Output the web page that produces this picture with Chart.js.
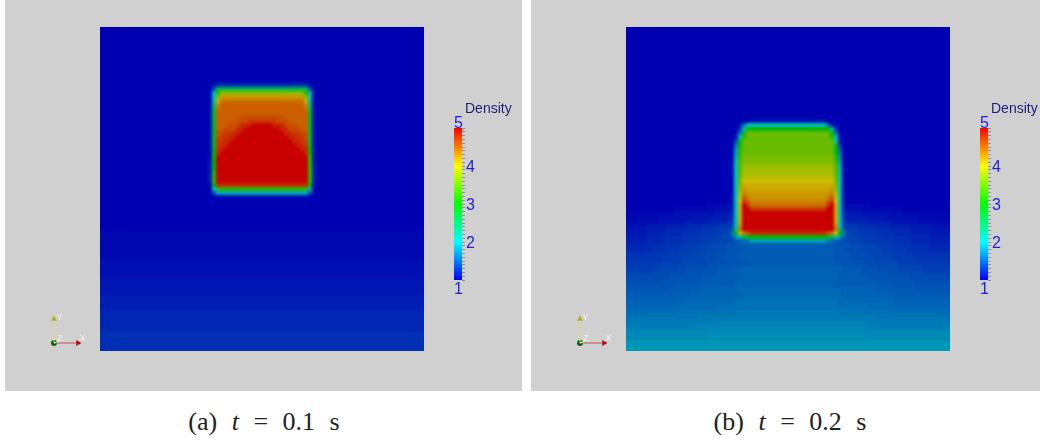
<!DOCTYPE html>
<html>
<head>
<meta charset="utf-8">
<style>
  html, body { margin: 0; padding: 0; background: #fff; }
  body { position: relative; width: 1040px; height: 441px; overflow: hidden; }
  .panel { position: absolute; top: 0; height: 391px; background: #d0d0d0; }
  canvas { position: absolute; display: block; }
  .caption { position: absolute; top: 407px; width: 518px; text-align: center;
    font: 26px "Liberation Serif", serif; color: #222; word-spacing: 8px; white-space: nowrap; }
</style>
</head>
<body>
<div class="panel" style="left:5px;width:517px"></div>
<div class="panel" style="left:531px;width:509px"></div>
<canvas id="heatA" style="left:100px;top:27px"></canvas>
<canvas id="heatB" style="left:626px;top:27px"></canvas>
<canvas id="barA" style="left:440px;top:95px"></canvas>
<canvas id="barB" style="left:966px;top:95px"></canvas>
<canvas id="axesA" style="left:40px;top:310px"></canvas>
<canvas id="axesB" style="left:566px;top:310px"></canvas>
<div class="caption" style="left:5px">(a) <i>t</i> = 0.1 s</div>
<div class="caption" style="left:531px">(b) <i>t</i> = 0.2 s</div>
<script src="https://cdn.jsdelivr.net/npm/chart.js@4/dist/chart.umd.js"></script>
<script>
// density: a letter is one entry of levelNames, "27a" means 27 cells of it
const levelNames = 'abcdefghijklmnopqrstuvwxyzABCDEFGHIJKLMNOPQRSTUV';
const levelValues = [1.00,1.04,1.08,1.12,1.16,1.20,1.24,1.28,1.32,1.36,1.40,1.44,1.48,1.52,1.56,1.60,1.64,1.68,1.72,1.76,1.80,1.84,1.88,1.92,1.96,2.00,
  2.2,2.4,2.6,2.8,3.0,3.2,3.4,3.5,3.6,3.7,3.8,3.9,4.0,4.1,4.2,4.3,4.4,4.5,4.6,4.7,4.8,5.0];

const densityA = [
  '81a','81a','81a','81a','81a','81a','81a','81a','81a','81a','81a','81a','81a','81a',
  '28a c 23g c 28a',
  '27a b k 23C k b 27a',
  '27a b z F 21J F z b 27a',
  '27a b z I 21O I z b 27a',
  '27a b A N 21Q N A b 27a',
  '27a b B P 21R P B b 27a',
  '27a c C Q 21R Q C c 27a',
  '27a c D R 21R R D c 27a',
  '27a c D 6R 11S 6R D c 27a',
  '27a c D 5R 3S 7T 3S 5R D c 27a',
  '27a c D 3R 3S 3U 5V 3U 3S 3R D c 27a',
  '27a c D 2R 3S 2U 9V 2U 3S 2R D c 27a',
  '27a c D 2S 2T 2U 11V 2U 2T 2S D c 27a',
  '27a c D S 2T 2U 13V 2U 2T S D c 27a',
  '27a c D 2T 2U 15V 2U 2T D c 27a',
  '27a c D T 2U 17V 2U T D c 27a',
  '27a c D 2U 19V 2U E d 27a',
  '27a c E U 21V U E d 27a',
  '27a c E 23V F d 27a',
  '27a d E 23V F e 27a',
  '27a d E 23V F e 27a',
  '27a e E 23V F f 27a',
  '27a e F 23V F f 27a',
  '27a e F 23V F f 27a',
  '27a e F 23V F f 27a',
  '27a c E 23U E c 27a',
  '27a b y 23F y b 27a',
  '27a b k 23w k b 27a',
  '29a 23c 29a',
  '81a','81a','81a','81a','81a','81a','81a','81a',
  '81b','81b','81b','81b','81b','81b','81b',
  '81c','81c','81c','81c','81c',
  '81d','81d','81d','81d',
  '81e','81e','81e','81e',
  '81f','81f','81f','81f','81f',
  '81g','81g','81g','81g','81g'
];

const densityB = [
  '81a','81a','81a','81a','81a','81a','81a','81a','81a','81a','81a','81a',
  '81a','81a','81a','81a','81a','81a','81a','81a','81a','81a','81a',
  '31a 19d 31a',
  '28a d p 20z p d 29a',
  '28a h z 21E z h 28a',
  '27a b p D 21H D p b 27a',
  '27a d z F 21H F z d 27a',
  '27a j D 23H z e 27a',
  '27a p E 23H C g 27a',
  '27a t F 23H E m 27a',
  '26a b u F 23H E p 27a',
  '26a b w F 23I F s 27a',
  '26a c y G 23I F u 27a',
  '26a c z G 23J G w 27a',
  '26a c z G 23K G y b 26a',
  '26a c z G 23K G y b 26a',
  '26a c z H 23L H z b 26a',
  '26a c z I 23M I z b 26a',
  '26a c z I 23N I z b 26a',
  '26a c z J O 21N O J z b 26a',
  '26a c z K P 21O P K z b 26a',
  '26a d z L R P 19O P R L z c 26a',
  '26a d z M T R 19P R T M z c 26a',
  '20a 6b d z N V T 19Q T V N z d 6b 20a',
  '12a 10b 4c e z N 2V 19T 2V N z e 4c 10b 12a',
  '12b 10c 4d f z N 23V N z f 4d 10c 12b',
  '8b 8c 6d 4e g z N 23V N z g 4e 6d 8c 8b',
  '8b 6c 6d 6e h z N 23V N z h 6e 6d 6c 8b',
  '5c 5d 5e 4f 4g 3h j z O 23V O z j 3h 4g 4f 5e 5d 5c',
  '5d 5e 5f 4g 4h 3i k A Q 23V Q A k 3i 4h 4g 5f 5e 5d',
  '5d 5e 4f 4g 4h 2i 2j q E M Q S 19U S Q M E q 2j 2i 4h 4g 4f 5e 5d',
  '5e 5f 5g 4h 4i 3j l u A C D 19E D C A u l 3j 4i 4h 5g 5f 5e',
  '5e 5f 5g 4h 4i 3j k l m o q 19v q o m l k 3j 4i 4h 5g 5f 5e',
  '5f 4g 5h 4i 3j 4k 3l 24m 4l 3k 4j 4i 5h 4g 5f',
  '6f 4g 3h 5i 4j 3k 4l 23m 3l 4k 5j 3i 4h 5g 5f',
  '5g 6h 5i 4j 5k 3l 24m 4l 4k 4j 5i 5h 5g',
  '7h 7i 5j 4k 5l 24m 4l 6k 4j 6i 9h',
  '9h 5i 6j 5k 5l 22m 5l 5k 6j 5i 8h',
  '7i 8j 6k 7l 26m 6l 8k 6j 7i',
  '8i 5j 6k 4l 4m 27n 5m 4l 5k 6j 7i',
  '7j 8k 8l 5m 25n 6m 7l 8k 7j',
  '11k 8l 10m 24n 8m 10l 10k',
  '9k 10l 8m 26n 10m 9l 9k',
  '13l 15m 24n 15m 14l',
  '11l 8m 8n 27o 8n 10m 9l',
  '16m 13n 23o 14n 15m',
  '13m 14n 27o 13n 14m',
  '15n 13o 25p 14o 14n',
  '12n 15o 26p 13o 15n',
  '22o 38p 21o',
  '12o 15p 27q 13p 14o',
  '18p 44q 19p',
  '22q 38r 21q',
  '17q 46r 18q',
  '21r 39s 21r',
  '81s',
  '20s 41t 20s',
  '81t',
  '81u',
  '81u'
];

const colorValues = [1, 2, 3, 4, 5];
const barColors = [[0,0,255],[0,255,255],[0,255,0],[255,255,0],[255,0,0]];   // legend
const heatColors = [[0,0,178],[0,190,185],[0,185,0],[205,190,0],[200,0,0]];  // same map, shaded in the plot
const barLabels = [2, 3, 4];
const endLabels = [5, 1];
const barTitle = 'Density';
const axisX = [{x:0,y:0},{x:1,y:0}];
const axisY = [{x:0,y:0},{x:0,y:1}];
const axisZ = [{x:0,y:0},{x:0.18,y:0.06}];
const axisNames = [{t:'X',x:1.06,y:0.1},{t:'Y',x:0.1,y:0.95},{t:'Z',x:0.14,y:0.1}];

const gridSize = 81;
const heatPx = 324;

function colorOf(v, stops) {
  let i = 0;
  while (i < colorValues.length - 2 && v > colorValues[i + 1]) i++;
  const f = (v - colorValues[i]) / (colorValues[i + 1] - colorValues[i]);
  const c = stops[i].map((a, k) => Math.round(a + (stops[i + 1][k] - a) * f));
  return `rgb(${c[0]},${c[1]},${c[2]})`;
}

function expandRow(row) {
  const s = row.replace(/\s/g, '').replace(/(\d+)([a-zA-Z])/g, (m, n, c) => c.repeat(+n));
  return s.padEnd(gridSize, s[s.length - 1]).slice(0, gridSize);
}

function drawHeat(id, rows) {
  const cells = [];
  const colors = [];
  rows.forEach((row, r) => {
    const s = expandRow(row);
    for (let c = 0; c < gridSize; c++) {
      const v = levelValues[levelNames.indexOf(s[c])];
      cells.push({ x: c + 0.5, y: r + 0.5 });
      colors.push(colorOf(v, heatColors));
    }
  });
  const canvas = document.getElementById(id);
  canvas.width = heatPx;
  canvas.height = heatPx;
  new Chart(canvas, {
    type: 'scatter',
    data: { datasets: [{ data: cells, pointStyle: 'rect', pointRadius: 4 / Math.SQRT2,
      pointBorderWidth: 0, pointBackgroundColor: colors, clip: false }] },
    options: {
      // one canvas pixel per cell, the browser smooths it when it is scaled up
      devicePixelRatio: gridSize / heatPx,
      responsive: false, animation: false, events: [],
      layout: { autoPadding: false, padding: 0 },
      plugins: { legend: { display: false }, tooltip: { enabled: false } },
      scales: {
        x: { type: 'linear', display: false, min: 0, max: gridSize },
        y: { type: 'linear', display: false, min: 0, max: gridSize, reverse: true }
      }
    }
  });
}

const barText = {
  id: 'barText',
  afterDraw(chart) {
    const ctx = chart.ctx;
    ctx.save();
    ctx.textBaseline = 'alphabetic';
    ctx.textAlign = 'left';
    ctx.font = '14px "Liberation Sans"';
    ctx.fillStyle = '#1c1c78';
    ctx.fillText(barTitle, 25, 18);
    ctx.font = '16px "Liberation Sans"';
    ctx.fillStyle = '#2222d8';
    ctx.fillText(String(endLabels[0]), 14, chart.scales.y.getPixelForValue(endLabels[0]));
    ctx.fillText(String(endLabels[1]), 14, chart.scales.y.getPixelForValue(endLabels[1]) + 14);
    ctx.restore();
  }
};

function drawBar(id, width) {
  const canvas = document.getElementById(id);
  canvas.width = width;
  canvas.height = 205;
  new Chart(canvas, {
    type: 'bar',
    data: {
      labels: [barTitle],
      datasets: [{
        data: [[colorValues[0], colorValues[colorValues.length - 1]]],
        categoryPercentage: 1, barPercentage: 1, borderWidth: 0,
        backgroundColor(c) {
          const area = c.chart.chartArea;
          if (!area) return '#00f';
          const g = c.chart.ctx.createLinearGradient(0, area.bottom, 0, area.top);
          colorValues.forEach((v, i) => g.addColorStop(i / (colorValues.length - 1), colorOf(v, barColors)));
          return g;
        }
      }]
    },
    options: {
      responsive: false, animation: false, events: [],
      layout: { padding: { left: 14, top: 33, bottom: 20, right: 0 } },
      plugins: { legend: { display: false }, tooltip: { enabled: false } },
      scales: {
        x: { display: false },
        y: {
          position: 'right', min: 1, max: 5,
          border: { display: false },
          grid: { drawOnChartArea: false, tickLength: 3, color: '#8c8ca4', lineWidth: 1 },
          afterFit(scale) { scale.width = width - 22; },
          ticks: {
            stepSize: 0.1, autoSkip: false, padding: 1, labelOffset: 2, maxRotation: 0,
            color: '#2222d8', font: { family: 'Liberation Sans', size: 16 },
            callback(v) {
              const n = Math.round(v * 10) / 10;
              return barLabels.includes(n) ? String(n) : '';
            }
          }
        }
      }
    },
    plugins: [barText]
  });
}

const axisText = {
  id: 'axisText',
  afterDraw(chart) {
    const ctx = chart.ctx;
    ctx.save();
    ctx.font = '9px "Liberation Sans"';
    ctx.fillStyle = '#f4f4f4';
    axisNames.forEach(n => {
      ctx.fillText(n.t, chart.scales.x.getPixelForValue(n.x), chart.scales.y.getPixelForValue(n.y));
    });
    ctx.restore();
  }
};

function drawAxes(id) {
  const canvas = document.getElementById(id);
  canvas.width = 50;
  canvas.height = 40;
  new Chart(canvas, {
    type: 'scatter',
    data: { datasets: [
      { data: axisZ, showLine: true, borderColor: '#f4f4f4', borderWidth: 1, pointRadius: 0 },
      { data: axisX, showLine: true, borderColor: '#c85050', borderWidth: 1,
        pointStyle: 'triangle', pointRotation: 90, pointBackgroundColor: '#b01010',
        pointBorderWidth: 0, pointRadius: [0, 3.5] },
      { data: axisY, showLine: true, borderColor: '#dcdc78', borderWidth: 1,
        pointStyle: 'triangle', pointBackgroundColor: '#b0b020',
        pointBorderWidth: 0, pointRadius: [0, 3.5] },
      { data: axisX.slice(0, 1), pointRadius: 3, pointBackgroundColor: '#0a640a', pointBorderWidth: 0 }
    ] },
    options: {
      responsive: false, animation: false, events: [],
      layout: { autoPadding: false, padding: 0 },
      plugins: { legend: { display: false }, tooltip: { enabled: false } },
      scales: {
        x: { type: 'linear', display: false, min: -14 / 24, max: 36 / 24 },
        y: { type: 'linear', display: false, min: -7 / 24, max: 33 / 24 }
      }
    },
    plugins: [axisText]
  });
}

drawHeat('heatA', densityA);
drawHeat('heatB', densityB);
drawBar('barA', 80);
drawBar('barB', 74);
drawAxes('axesA');
drawAxes('axesB');
</script>
</body>
</html>
